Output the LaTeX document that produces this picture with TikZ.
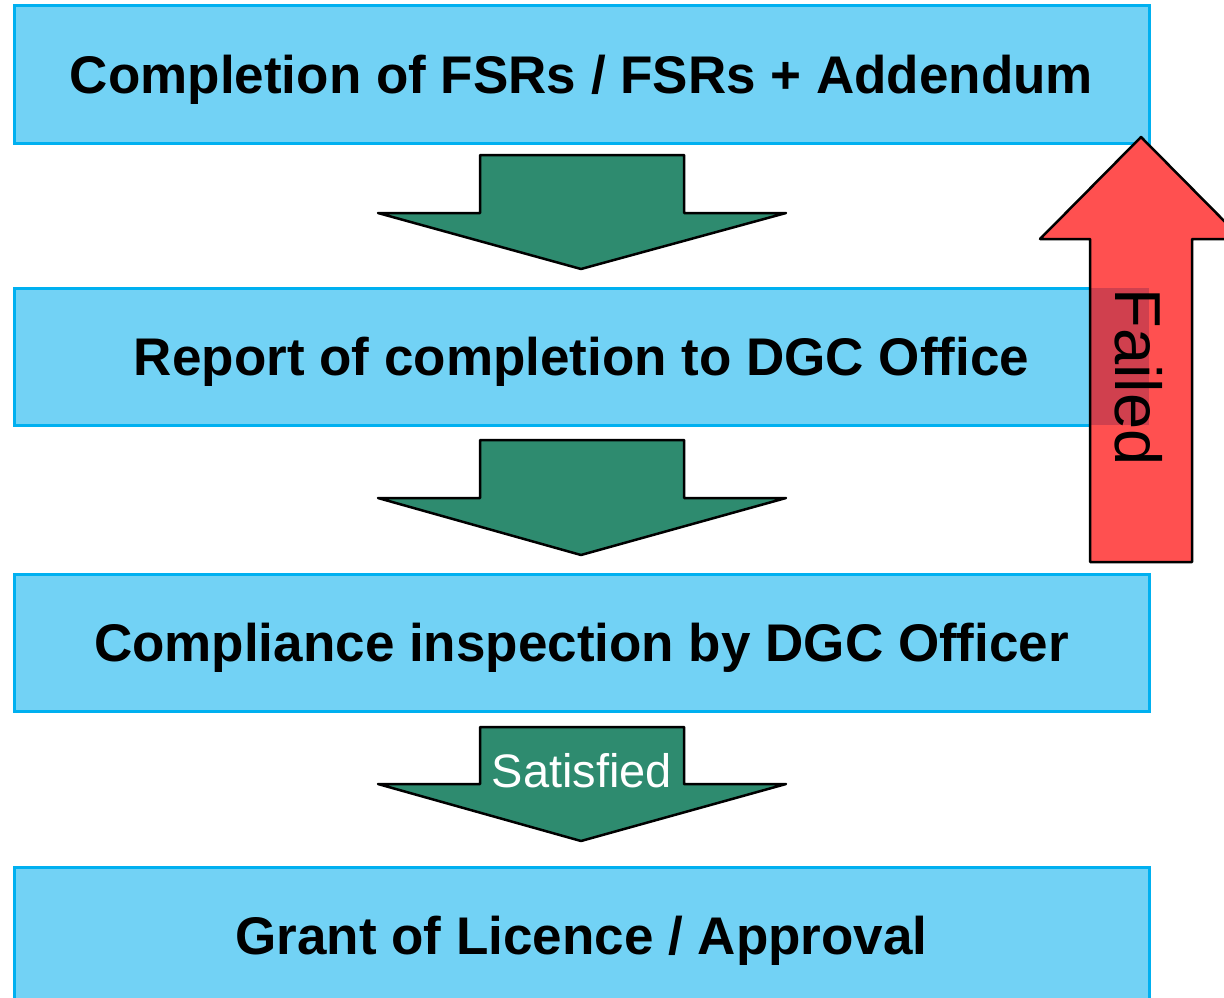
\documentclass[tikz,border=0pt]{standalone}
\usepackage{fontspec}
\setmainfont{Liberation Sans}
\usetikzlibrary{positioning}
\definecolor{boxfill}{RGB}{114,210,245}
\definecolor{boxline}{RGB}{0,176,240}
\definecolor{stepgreen}{RGB}{46,139,111}
\definecolor{failred}{RGB}{255,80,80}
\definecolor{faildark}{RGB}{208,64,78}
\begin{document}
\begin{tikzpicture}[x=1pt,y=-1pt,
  stagebox/.style={draw=boxline,fill=boxfill,line width=3pt,minimum width=1135pt,
    minimum height=137pt,inner sep=0pt,text depth=0pt,font=\fontsize{53}{60}\selectfont\bfseries},
  downblk/.style={fill=stepgreen,draw=black,line width=2.5pt,line join=round}]
\clip (0,0) rectangle (1224,998);
\node[stagebox] (fsr) at (581.5,74.5) {Completion of FSRs / FSRs + Addendum};
\node[stagebox] (report) at (581.5,356.5) {Report of completion to DGC Office};
\node[stagebox] (inspect) at (581.5,642.5) {Compliance inspection by DGC Officer};
\node[stagebox] (grant) at (581.5,935.5) {Grant of Licence / Approval};
\draw[downblk] (480,155) -- (684,155) -- (684,213) -- (786,213) -- (581,269) -- (378,213) -- (480,213) -- cycle;
\draw[downblk] (480,440) -- (684,440) -- (684,498) -- (786,498) -- (581,555) -- (378,498) -- (480,498) -- cycle;
\draw[downblk] (480,727) -- (684,727) -- (684,784) -- (786,784) -- (581,841) -- (378,784) -- (480,784) -- cycle;
\node[text=white,font=\fontsize{47}{52}\selectfont] (ok) at (582,771) {Satisfied};
\fill[failred] (1090,562) -- (1090,239) -- (1040,239) -- (1141,137) -- (1242,239) -- (1192,239) -- (1192,562) -- cycle;
\fill[faildark] (1090,288) rectangle (1149,425);
\draw[line width=2.5pt,line join=round] (1090,562) -- (1090,239) -- (1040,239) -- (1141,137) -- (1242,239) -- (1192,239) -- (1192,562) -- cycle;
\node[rotate=-90,font=\fontsize{65}{70}\selectfont] (fail) at (1139,377) {Failed};
\end{tikzpicture}
\end{document}
